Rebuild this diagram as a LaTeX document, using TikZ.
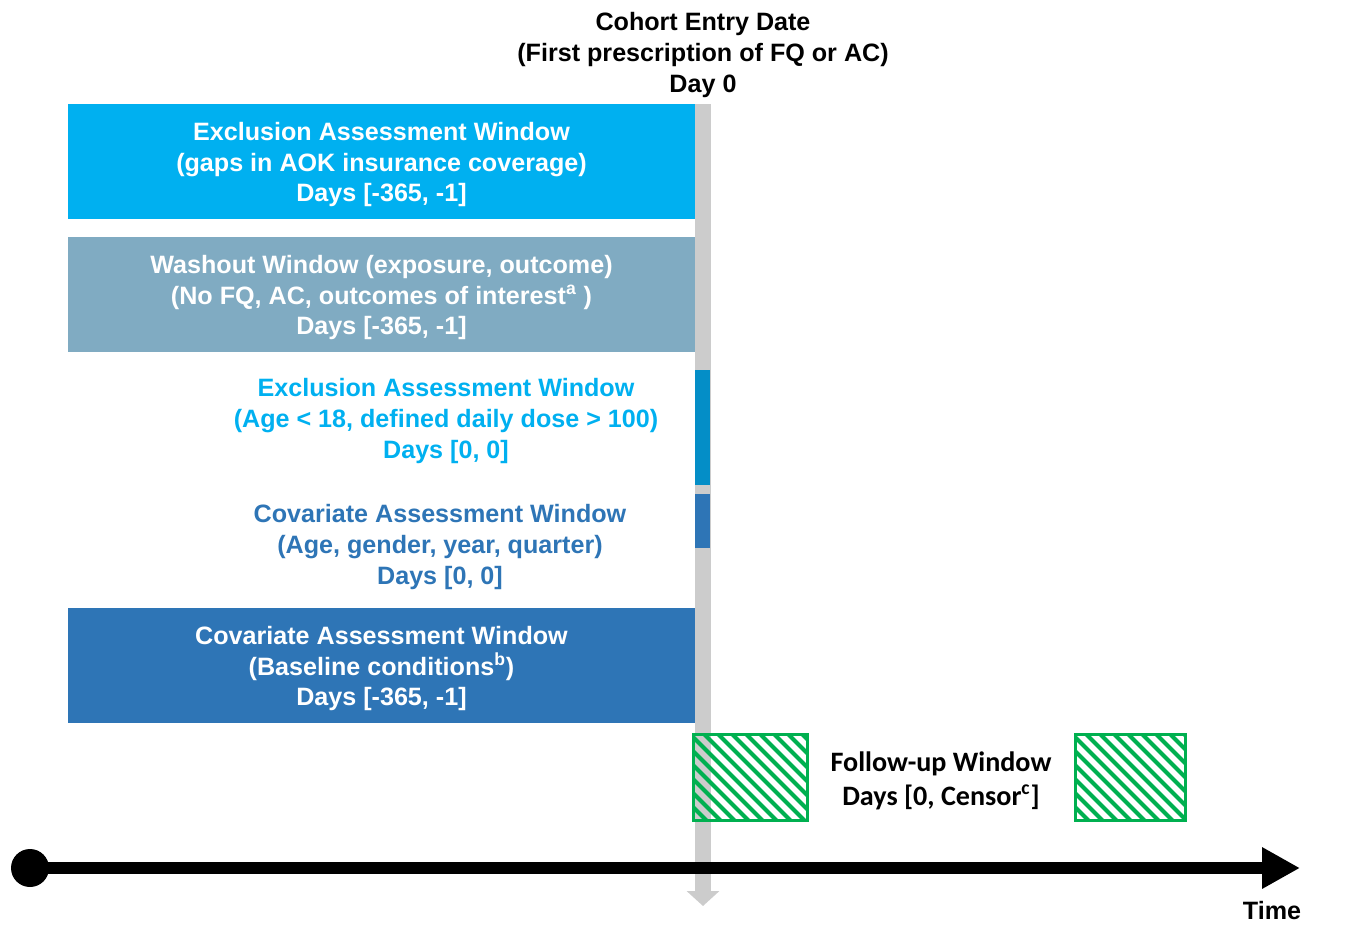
\documentclass[tikz,border=0pt]{standalone}
\usepackage{fontspec}
\setmainfont{Liberation Sans}
\newfontfamily\calib{Carlito}
\usetikzlibrary{arrows.meta,calc}
\definecolor{cyanA}{RGB}{0,176,240}
\definecolor{washA}{RGB}{128,171,194}
\definecolor{tealB}{RGB}{4,142,199}
\definecolor{blueC}{RGB}{46,117,182}
\definecolor{greenD}{RGB}{0,176,80}
\definecolor{grayE}{RGB}{204,204,204}
\begin{document}
\begin{tikzpicture}[x=0.02cm,y=-0.02cm,
  txt/.style={font=\bfseries\fontsize{14.3}{17.6}\selectfont, align=center},
  bigbox/.style={minimum width=12.54cm, minimum height=2.3cm, inner sep=0, draw=none},
  bar/.style={minimum width=0.3cm, inner sep=0, draw=none},
  hbox/.style={draw=greenD, line width=0.04cm, minimum height=1.7cm, inner sep=0},
  hatch/.style={greenD, line width=0.08cm}]
\useasboundingbox (0,0) rectangle (1357,924);
% vertical day-0 arrow
\coordinate (vtop) at (703,104);
\coordinate (vbot) at (703,906);
\draw[grayE, line width=0.32cm, -{Triangle[width=0.64cm,length=0.3cm]}] (vtop) -- (vbot);
% title
\node (title) [txt] at (703,55) {Cohort Entry Date\\(First prescription of FQ or AC)\\Day 0};
% boxes
\node (b1) [bigbox, fill=cyanA] at (381.5,161.5) {};
\node (t1) [txt, text=white] at ($(b1.center)+(0,3)$) {Exclusion Assessment Window\\(gaps in AOK insurance coverage)\\Days [-365, -1]};
\node (b2) [bigbox, fill=washA] at (381.5,294.5) {};
\node (t2) [txt, text=white] at ($(b2.center)+(0,3)$) {Washout Window (exposure, outcome)\\(No FQ, AC, outcomes of interest\textsuperscript{a} )\\Days [-365, -1]};
\node (bar3) [bar, fill=tealB, minimum height=2.3cm] at (702.5,427.5) {};
\node (t3) [txt, text=cyanA] at (446,421) {Exclusion Assessment Window\\(Age < 18, defined daily dose > 100)\\Days [0, 0]};
\node (bar4) [bar, fill=blueC, minimum height=1.08cm] at (702.5,521) {};
\node (t4) [txt, text=blueC] at (440,547) {Covariate Assessment Window\\(Age, gender, year, quarter)\\Days [0, 0]};
\node (b5) [bigbox, fill=blueC] at (381.5,665.5) {};
\node (t5) [txt, text=white] at ($(b5.center)+(0,3)$) {Covariate Assessment Window\\(Baseline conditions\textsuperscript{b})\\Days [-365, -1]};
% follow-up
\node (fu1) [hbox, minimum width=2.26cm] at (750.5,777.5) {};
\node (fu2) [hbox, minimum width=2.18cm] at (1130.5,777.5) {};
\foreach \b in {fu1,fu2}{
  \begin{scope}
    \clip (\b.south west) rectangle (\b.north east);
    \foreach \i in {-120,-106,...,130}
      \draw[hatch] ($(\b.north west)+(\i,-5)$) -- ++(100,100);
  \end{scope}
  \draw[greenD, line width=0.04cm] (\b.south west) rectangle (\b.north east);
}
\node (fut) [font=\calib\bfseries\fontsize{16}{19.3}\selectfont, align=center] at (941,781) {Follow-up Window\\Days [0, Censor\textsuperscript{c}]};
% timeline
\node (dot) [circle, fill=black, minimum size=0.76cm, inner sep=0] at (30,868) {};
\coordinate (tend) at (1300,868);
\draw[line width=0.24cm, -{Triangle[width=0.78cm,length=0.76cm]}] (dot.center) -- (tend);
\node (time) [txt] at (1272,911) {Time};
\end{tikzpicture}
\end{document}
